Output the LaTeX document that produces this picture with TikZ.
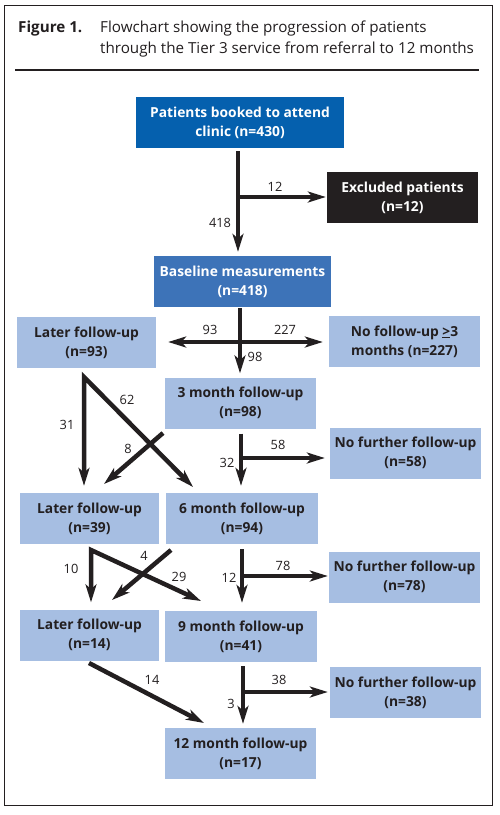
\documentclass[tikz,border=0pt]{standalone}
\usepackage{fontspec}
\setmainfont{Open Sans}
\usetikzlibrary{arrows.meta}
\definecolor{dkblue}{HTML}{0560AE}
\definecolor{mdblue}{HTML}{3D73B8}
\definecolor{ltblue}{HTML}{A6BEE2}
\definecolor{ink}{HTML}{231F20}
\tikzset{
  box/.style={fill=ltblue, text=ink, font=\fontsize{13.8}{19}\selectfont\bfseries,
    align=center, inner sep=0pt, minimum height=51pt, minimum width=#1pt},
  dbox/.style={box=#1, fill=dkblue, text=white},
  mbox/.style={box=#1, fill=mdblue, text=white},
  kbox/.style={box=#1, fill=ink, text=white},
  tip/.tip={Stealth[length=18pt,width=11pt,inset=5pt]},
  arr/.style={draw=ink, line width=4.5pt, -tip},
  arrr/.style={draw=ink, line width=4.5pt, tip-tip},
  lab/.style={text=ink, font=\fontsize{12.8}{14}\selectfont, inner sep=0pt},
  ttl/.style={anchor=base west, inner sep=0pt, text=ink, font=\fontsize{15.2}{20}\selectfont},
}
\begin{document}
\begin{tikzpicture}[x=1pt,y=-1pt]
\useasboundingbox (0,0) rectangle (499,815);
\fill[white] (0,0) rectangle (499,815);
\draw[ink, line width=1pt] (4,5) rectangle (492,805);
% title
\node[ttl, font=\fontsize{15.2}{20}\selectfont\bfseries] (fig) at (18,32.7) {Figure 1.};
\node[ttl] (t1) at (100,32.7) {Flowchart showing the progression of patients};
\node[ttl] (t2) at (100,53.3) {through the Tier 3 service from referral to 12 months};
\draw[ink, line width=2pt] (15,70) -- (479,70);
% boxes
\node[dbox=208] (top) at (240,122.5) {Patients booked to attend\\clinic (n=430)};
\node[kbox=151] (excl) at (402.5,197.5) {Excluded patients\\(n=12)};
\node[mbox=177] (base) at (242.5,281.5) {Baseline measurements\\(n=418)};
\node[box=139] (l93) at (86.5,342.5) {Later follow-up\\(n=93)};
\node[box=151] (nofu) at (404.5,341.5) {No follow-up \underline{>}3\\months (n=227)};
\node[box=151] (m3) at (240.5,403) {3 month follow-up\\(n=98)};
\node[box=151] (nf58) at (405.5,453) {No further follow-up\\(n=58)};
\node[box=139] (l39) at (89.5,518.5) {Later follow-up\\(n=39)};
\node[box=152] (m6) at (242,518.5) {6 month follow-up\\(n=94)};
\node[box=151] (nf78) at (404.5,577) {No further follow-up\\(n=78)};
\node[box=139] (l14) at (89.5,635) {Later follow-up\\(n=14)};
\node[box=152] (m9) at (241,636.5) {9 month follow-up\\(n=41)};
\node[box=151] (nf38) at (405.5,692.5) {No further follow-up\\(n=38)};
\node[box=151] (m12) at (240.5,753.5) {12 month follow-up\\(n=17)};
% hubs and free ends
\coordinate (j1) at (238,197);
\coordinate (j2) at (240,342);
\coordinate (j3) at (241,458);
\coordinate (j4) at (242,576);
\coordinate (j5) at (243,692);
\coordinate (c1) at (84,377);
\coordinate (d1) at (193,487);
\coordinate (s8) at (163,433);
\coordinate (e8) at (104,484);
\coordinate (c2) at (91,550);
\coordinate (d2) at (201,601);
\coordinate (s4) at (171,550);
\coordinate (e4) at (112,600);
\coordinate (s14) at (89,663);
\coordinate (e14) at (204,723);
% connectors
\draw[arr, shorten <=3pt, shorten >=4pt] (j1 |- top.south) -- (j1 |- base.north);
\draw[arr, shorten >=1pt] (j1) -- (j1 -| excl.west);
\draw[arr, shorten <=1pt, shorten >=4pt] (j2 |- base.south) -- (j2 |- m3.north);
\draw[arr, shorten >=12pt] (j2) -- (j2 -| l93.east);
\draw[arr, shorten >=6pt] (j2) -- (j2 -| nofu.west);
\draw[arr, shorten <=5pt, shorten >=7pt] (j3 |- m3.south) -- (j3 |- m6.north);
\draw[arr, shorten >=5pt] (j3) -- (j3 -| nf58.west);
\draw[arr, shorten <=5pt, shorten >=8pt] (j4 |- m6.south) -- (j4 |- m9.north);
\draw[arr, shorten >=1pt] (j4) -- (j4 -| nf78.west);
\draw[arr, shorten <=4pt, shorten >=4pt] (j5 |- m9.south) -- (j5 |- m12.north);
\draw[arr, shorten >=2pt] (j5) -- (j5 -| nf38.west);
\draw[arrr, shorten <=7pt] (c1 |- l39.north) -- (c1) -- (d1);
\draw[arr] (s8) -- (e8);
\draw[arrr, shorten <=7pt] (c2 |- l14.north) -- (c2) -- (d2);
\draw[arr] (s4) -- (e4);
\draw[arr] (s14) -- (e14);
% labels
\node[lab] (n12a) at (275,187) {12};
\node[lab] (n418) at (220,223) {418};
\node[lab] (n93) at (210,330) {93};
\node[lab] (n227) at (285,330) {227};
\node[lab] (n98) at (255,357) {98};
\node[lab] (n62) at (127,400) {62};
\node[lab] (n31) at (67,425) {31};
\node[lab] (n8) at (128,449) {8};
\node[lab] (n58) at (278,445) {58};
\node[lab] (n32) at (227,463) {32};
\node[lab] (n10) at (71,569) {10};
\node[lab] (n4) at (144,556) {4};
\node[lab] (n29) at (179,577) {29};
\node[lab] (n78) at (283,566) {78};
\node[lab] (n12b) at (229,578) {12};
\node[lab] (n38) at (279,680) {38};
\node[lab] (n3) at (231,704) {3};
\node[lab] (n14) at (152,680) {14};
\end{tikzpicture}
\end{document}
